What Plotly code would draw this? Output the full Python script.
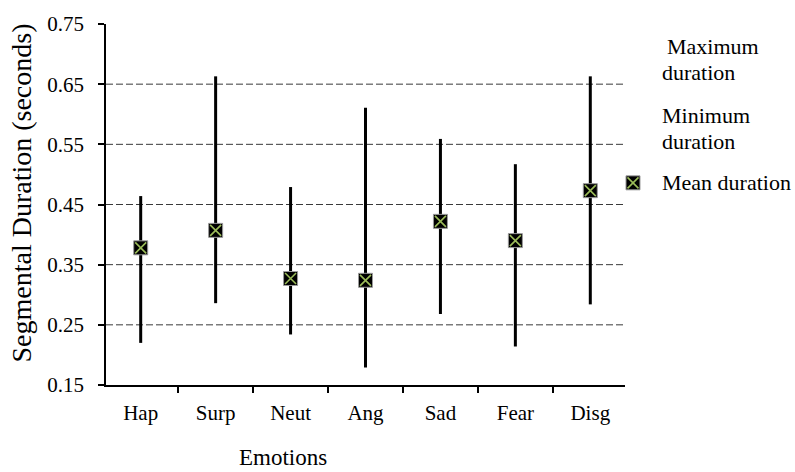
import plotly.graph_objects as go

emotions = ["Hap", "Surp", "Neut", "Ang", "Sad", "Fear", "Disg"]
max_duration = [0.464, 0.663, 0.479, 0.611, 0.559, 0.517, 0.663]
min_duration = [0.220, 0.286, 0.234, 0.179, 0.268, 0.214, 0.284]
mean_duration = [0.378, 0.407, 0.327, 0.324, 0.422, 0.390, 0.473]
y_ticks = [0.15, 0.25, 0.35, 0.45, 0.55, 0.65, 0.75]
grid_levels = [0.25, 0.35, 0.45, 0.55, 0.65]

FONT = "Liberation Serif"
GREEN = "#9BBB59"

up = [mx - m for mx, m in zip(max_duration, mean_duration)]
down = [m - mn for m, mn in zip(mean_duration, min_duration)]

fig = go.Figure()
fig.add_trace(go.Scatter(
    x=emotions, y=mean_duration, mode="markers",
    marker=dict(symbol="square", size=14, color="black",
                line=dict(color="#9a9a9a", width=1)),
    error_y=dict(type="data", symmetric=False, array=up, arrayminus=down,
                 width=0, thickness=3, color="black"),
    showlegend=False, hoverinfo="skip"))
fig.add_trace(go.Scatter(
    x=emotions, y=mean_duration, mode="markers",
    marker=dict(symbol="x-thin", size=11, color=GREEN,
                line=dict(color=GREEN, width=1.6)),
    showlegend=False, hoverinfo="skip"))

shapes = []
for g in grid_levels:
    shapes.append(dict(type="line", xref="paper", yref="y", x0=0, x1=1, y0=g, y1=g,
                       line=dict(color="#3a3a3a", width=1, dash="7px,3px"), layer="below"))

# legend symbol for mean duration
lx, ly = 1.0154, 0.560
shapes.append(dict(type="rect", xref="paper", yref="paper", xsizemode="pixel", ysizemode="pixel",
                   xanchor=lx, yanchor=ly, x0=-7, x1=7, y0=-7, y1=7,
                   fillcolor="black", line=dict(color="#9a9a9a", width=1)))
shapes.append(dict(type="line", xref="paper", yref="paper", xsizemode="pixel", ysizemode="pixel",
                   xanchor=lx, yanchor=ly, x0=-5.5, x1=5.5, y0=-5.5, y1=5.5,
                   line=dict(color=GREEN, width=1.6)))
shapes.append(dict(type="line", xref="paper", yref="paper", xsizemode="pixel", ysizemode="pixel",
                   xanchor=lx, yanchor=ly, x0=-5.5, x1=5.5, y0=5.5, y1=-5.5,
                   line=dict(color=GREEN, width=1.6)))

ann_font = dict(family=FONT, size=22, color="black")
annotations = [
    dict(text="Segmental Duration (seconds)", xref="paper", yref="paper", x=-0.162, y=0.533,
         textangle=-90, showarrow=False, xanchor="center", yanchor="middle",
         font=dict(family=FONT, size=28, color="black")),
    dict(text="Emotions", xref="paper", yref="paper", x=0.341, y=-0.1995,
         showarrow=False, xanchor="center", yanchor="middle",
         font=dict(family=FONT, size=23, color="black")),
    dict(text="Maximum", xref="paper", yref="paper", x=1.077, y=0.938,
         showarrow=False, xanchor="left", yanchor="middle", font=ann_font),
    dict(text="duration", xref="paper", yref="paper", x=1.0674, y=0.865,
         showarrow=False, xanchor="left", yanchor="middle", font=ann_font),
    dict(text="Minimum", xref="paper", yref="paper", x=1.0674, y=0.747,
         showarrow=False, xanchor="left", yanchor="middle", font=ann_font),
    dict(text="duration", xref="paper", yref="paper", x=1.0674, y=0.674,
         showarrow=False, xanchor="left", yanchor="middle", font=ann_font),
    dict(text="Mean duration", xref="paper", yref="paper", x=1.0674, y=0.560,
         showarrow=False, xanchor="left", yanchor="middle", font=ann_font),
]

fig.update_layout(
    width=795, height=472,
    margin=dict(l=106, r=170, t=19, b=87),
    paper_bgcolor="white", plot_bgcolor="white",
    font=dict(family=FONT, color="black"),
    shapes=shapes, annotations=annotations,
    xaxis=dict(type="category", categoryorder="array", categoryarray=emotions,
               showline=True, linecolor="black", linewidth=2,
               ticks="outside", tickson="boundaries", ticklen=6, tickwidth=2, tickcolor="black",
               showgrid=False, zeroline=False, ticklabelstandoff=8,
               tickfont=dict(family=FONT, size=21, color="black")),
    yaxis=dict(range=[0.15, 0.75], tickvals=y_ticks, ticktext=[f"{v:.2f}" for v in y_ticks],
               showline=True, linecolor="black", linewidth=1.5,
               ticks="outside", ticklen=6, tickwidth=1.5, tickcolor="black",
               showgrid=False, zeroline=False, ticklabelstandoff=10,
               tickfont=dict(family=FONT, size=21, color="black")),
)

fig.write_html("out.html")
